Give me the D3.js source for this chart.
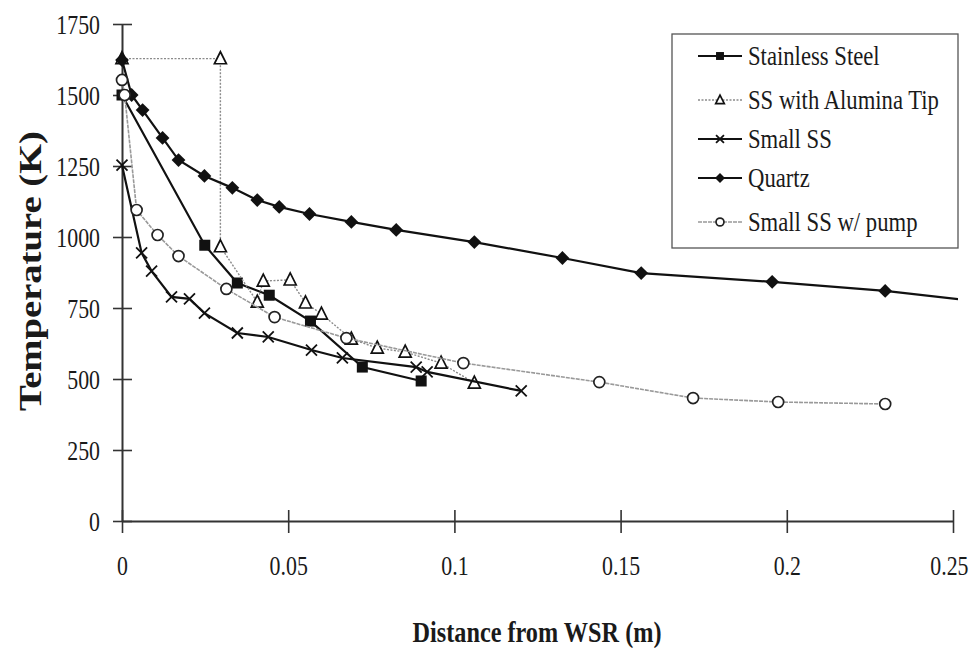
<!DOCTYPE html>
<html>
<head>
<meta charset="utf-8">
<script src="https://cdn.jsdelivr.net/npm/d3@7"></script>
<style>
  html, body { margin: 0; padding: 0; background: #fff; }
  svg { display: block; }
  text { font-family: "Liberation Serif", "Times New Roman", Times, "DejaVu Serif", serif; fill: #1a1a1a; }
</style>
</head>
<body>
<svg id="chart" width="980" height="648"></svg>
<script>
// Distance from the WSR (m) and measured temperature (K) for each probe
const stainlessX = [0, 0.0249, 0.0347, 0.0443, 0.0567, 0.0723, 0.0900];
const stainlessT = [1500, 971, 838, 795, 704, 542, 493];

const aluminaX = [0, 0.0296, 0.0296, 0.0407, 0.0425, 0.0506, 0.0552, 0.0600, 0.0690, 0.0768, 0.0852, 0.0960, 0.1060];
const aluminaT = [1628, 1628, 966, 771, 845, 849, 768, 729, 641, 609, 595, 556, 486];

const smallX = [0, 0.0059, 0.0089, 0.0149, 0.0203, 0.0248, 0.0347, 0.0440, 0.0570, 0.0663, 0.0885, 0.0918, 0.1201];
const smallT = [1253, 944, 880, 789, 782, 732, 662, 648, 602, 574, 542, 525, 458];

const quartzX = [0, 0.0029, 0.0062, 0.0122, 0.0170, 0.0248, 0.0332, 0.0407, 0.0473, 0.0564, 0.0690, 0.0825, 0.1060, 0.1325, 0.1562, 0.1956, 0.2296, 0.2600];
const quartzT = [1623, 1500, 1447, 1349, 1271, 1215, 1173, 1130, 1106, 1081, 1053, 1025, 982, 926, 873, 842, 810, 770];

const pumpX = [0, 0.0008, 0.0044, 0.0107, 0.0170, 0.0314, 0.0459, 0.0675, 0.1027, 0.1436, 0.1718, 0.1974, 0.2296];
const pumpT = [1553, 1500, 1095, 1007, 933, 817, 718, 644, 556, 489, 433, 419, 412];

const seriesNames = ["Stainless Steel", "SS with Alumina Tip", "Small SS", "Quartz", "Small SS w/ pump"];

const xTicks = [0, 0.05, 0.1, 0.15, 0.2, 0.25];
const xTickLabels = ["0", "0.05", "0.1", "0.15", "0.2", "0.25"];
const yTicks = [0, 250, 500, 750, 1000, 1250, 1500, 1750];
const yTickLabels = ["0", "250", "500", "750", "1000", "1250", "1500", "1750"];

const xTitle = "Distance from WSR (m)";
const yTitle = "Temperature (K)";

// ---- layout ----
const svg = d3.select("#chart");
const x = d3.scaleLinear().domain([0, 0.25]).range([122, 953]);
const y = d3.scaleLinear().domain([0, 1750]).range([521, 24]);

// Narrow the serif glyphs to the condensed face used on the chart
function squeeze(sel, factor) {
  sel.each(function () {
    const w = this.getComputedTextLength();
    d3.select(this).attr("textLength", w * factor).attr("lengthAdjust", "spacingAndGlyphs");
  });
}
function fitTo(sel, width) {
  sel.attr("textLength", width).attr("lengthAdjust", "spacingAndGlyphs");
}

// ---- axes ----
const axisColor = "#333";
const yAxis = svg.append("g").attr("transform", `translate(${x(0)},0)`)
  .call(d3.axisLeft(y).tickValues(yTicks).tickFormat((d, i) => yTickLabels[i]).tickSizeOuter(0));
yAxis.attr("font-family", null);
yAxis.select(".domain").attr("stroke", axisColor).attr("stroke-width", 2);
yAxis.selectAll(".tick line").attr("x1", 10).attr("x2", -9).attr("stroke", axisColor).attr("stroke-width", 1.6);
yAxis.selectAll(".tick text").attr("x", -22).attr("dy", "0.34em")
  .style("font-size", "28px").attr("fill", "#1a1a1a")
  .call(squeeze, 0.78);

const xAxis = svg.append("g").attr("transform", `translate(0,${y(0)})`)
  .call(d3.axisBottom(x).tickValues(xTicks).tickFormat((d, i) => xTickLabels[i]).tickSizeOuter(0));
xAxis.attr("font-family", null);
xAxis.select(".domain").attr("stroke", axisColor).attr("stroke-width", 2);
xAxis.selectAll(".tick line").attr("y1", -11).attr("y2", 12).attr("stroke", axisColor).attr("stroke-width", 1.6);
xAxis.selectAll(".tick text").attr("y", 44).attr("dy", "0.34em")
  .style("font-size", "28px").attr("fill", "#1a1a1a")
  .call(squeeze, 0.78);
// keep the last label inside the frame
xAxis.selectAll(".tick text").filter((d, i) => i === xTicks.length - 1)
  .attr("text-anchor", "end").attr("x", 968 - x(0.25));

// axis titles
svg.append("text").attr("x", 537).attr("y", 642)
  .attr("text-anchor", "middle").style("font-size", "29px").style("font-weight", "bold")
  .text(xTitle).call(fitTo, 249);
svg.append("text").attr("transform", "translate(41,271) rotate(-90)")
  .attr("text-anchor", "middle").style("font-size", "31px").style("font-weight", "bold")
  .text(yTitle).call(fitTo, 280);

// ---- series ----
svg.append("clipPath").attr("id", "plotClip")
  .append("rect").attr("x", 110).attr("y", 10).attr("width", x(0.25) - 110 + 5).attr("height", 530);

const diamondPath = s => `M0,${-s}L${s},0L0,${s}L${-s},0Z`;
const markers = {
  square: (g, s) => g.append("rect").attr("x", -s).attr("y", -s).attr("width", 2 * s).attr("height", 2 * s).attr("fill", "#111"),
  triangle: (g, s) => g.append("path").attr("d", `M0,${-s * 1.15}L${s},${s * 0.85}L${-s},${s * 0.85}Z`).attr("fill", "#fff").attr("stroke", "#111").attr("stroke-width", 1.7),
  cross: (g, s) => g.append("path").attr("d", `M${-s},${-s}L${s},${s}M${-s},${s}L${s},${-s}`).attr("stroke", "#111").attr("stroke-width", 1.8).attr("fill", "none"),
  diamond: (g, s) => g.append("path").attr("d", diamondPath(s * 1.15)).attr("fill", "#111"),
  circle: (g, s) => g.append("circle").attr("r", s).attr("fill", "#fff").attr("stroke", "#222").attr("stroke-width", 1.7)
};

const series = [
  { name: seriesNames[0], xs: stainlessX, ts: stainlessT, stroke: "#111", width: 2.2, dash: null, marker: "square", size: 5.5 },
  { name: seriesNames[1], xs: aluminaX, ts: aluminaT, stroke: "#8a8a8a", width: 1.4, dash: "2,1.5", marker: "triangle", size: 6 },
  { name: seriesNames[2], xs: smallX, ts: smallT, stroke: "#111", width: 2.2, dash: null, marker: "cross", size: 5.5 },
  { name: seriesNames[3], xs: quartzX, ts: quartzT, stroke: "#111", width: 2.2, dash: null, marker: "diamond", size: 6 },
  { name: seriesNames[4], xs: pumpX, ts: pumpT, stroke: "#999", width: 1.6, dash: "4,1", marker: "circle", size: 5.5 }
];

const line = d3.line().x(d => x(d[0])).y(d => y(d[1]));
const plot = svg.append("g").attr("clip-path", "url(#plotClip)");

// each series in turn: its line, then its markers, later series on top
series.forEach(s => {
  const pts = s.xs.map((v, i) => [v, s.ts[i]]);
  plot.append("path").datum(pts).attr("d", line)
    .attr("fill", "none").attr("stroke", s.stroke).attr("stroke-width", s.width)
    .attr("stroke-dasharray", s.dash);
  pts.forEach(p => {
    const g = plot.append("g").attr("transform", `translate(${x(p[0])},${y(p[1])})`);
    markers[s.marker](g, s.size);
  });
});

// ---- legend ----
const legend = svg.append("g");
legend.append("rect").attr("x", 672).attr("y", 34).attr("width", 286).attr("height", 214)
  .attr("fill", "#fff").attr("stroke", "#555").attr("stroke-width", 1.3);
const rowY = [56, 100, 139, 178, 222];
series.forEach((s, i) => {
  const g = legend.append("g").attr("transform", `translate(0,${rowY[i]})`);
  g.append("line").attr("x1", 698).attr("x2", 742).attr("y1", 0).attr("y2", 0)
    .attr("stroke", s.stroke).attr("stroke-width", s.width).attr("stroke-dasharray", s.dash);
  const m = g.append("g").attr("transform", "translate(720,0)");
  markers[s.marker](m, s.size * 0.72);
  g.append("text").attr("x", 748).attr("dy", "0.34em").style("font-size", "27px")
    .text(s.name).call(squeeze, 0.84);
});
</script>
</body>
</html>
